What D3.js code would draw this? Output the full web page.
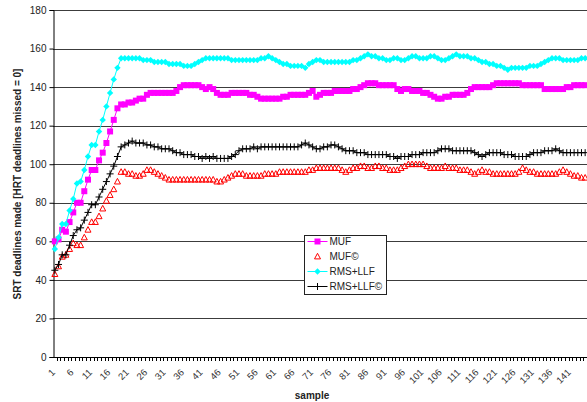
<!DOCTYPE html>
<html lang="en">
<head>
<meta charset="utf-8">
<title>SRT deadlines made</title>
<style>
  body { margin: 0; background: #fff; }
  svg { display: block; font-family: "Liberation Sans", Arial, sans-serif; }
</style>
</head>
<body>
<svg width="587" height="402"></svg>
<script src="https://d3js.org/d3.v7.min.js"></script>
<script>

// samples 1..145
var samples = d3.range(1, 146);

var yTicks = [0, 20, 40, 60, 80, 100, 120, 140, 160, 180];

var seriesNames = ["MUF", "MUF\u00a9", "RMS+LLF", "RMS+LLF\u00a9"];

var muf = [
   60,  61,  66,  65,  70,  75,  80,  80,  86,  92,
   97,  97, 102, 106, 111, 117, 123, 129, 131, 131,
  132, 132, 133, 134, 134, 136, 137, 137, 137, 137,
  137, 137, 137, 138, 140, 141, 141, 141, 141, 141,
  140, 139, 140, 139, 137, 136, 136, 136, 137, 137,
  137, 137, 137, 136, 136, 135, 134, 134, 134, 134,
  134, 134, 135, 135, 136, 136, 136, 136, 136, 137,
  138, 135, 136, 137, 137, 137, 138, 138, 138, 138,
  138, 139, 139, 140, 141, 142, 142, 142, 141, 141,
  141, 141, 141, 139, 138, 139, 139, 138, 138, 138,
  137, 137, 136, 135, 134, 134, 135, 135, 136, 136,
  136, 136, 137, 139, 140, 140, 140, 140, 140, 141,
  142, 142, 142, 142, 142, 142, 142, 141, 141, 141,
  141, 141, 141, 139, 139, 139, 139, 139, 139, 140,
  140, 141, 141, 141, 141
];

var mufC = [
   43,  47,  52,  53,  56,  59,  58,  58,  62,  66,
   70,  70,  73,  77,  81,  84,  87,  91,  96,  96,
   95,  95,  94,  94,  95,  97,  97,  96,  95,  94,
   93,  92,  92,  92,  92,  92,  92,  92,  92,  92,
   92,  92,  92,  92,  91,  91,  92,  93,  94,  95,
   95,  95,  94,  94,  94,  94,  94,  95,  95,  95,
   95,  96,  96,  96,  96,  96,  96,  96,  96,  97,
   97,  98,  98,  98,  98,  98,  98,  98,  97,  96,
   97,  98,  98,  99,  99,  98,  98,  99,  99,  98,
   98,  97,  97,  97,  98,  99, 100, 100, 100, 100,
  100,  99,  98,  98,  98,  98,  99,  98,  98,  98,
   97,  97,  97,  96,  95,  96,  97,  96,  96,  95,
   95,  95,  95,  95,  95,  95,  96,  98,  97,  96,
   96,  95,  95,  95,  95,  95,  95,  96,  97,  96,
   95,  94,  94,  93,  93
];

var rmsLlf = [
   56,  62,  69,  69,  76,  82,  90,  91,  97, 104,
  110, 110, 117, 123, 130, 137, 144, 150, 155, 155,
  155, 155, 155, 155, 154, 154, 154, 153, 153, 153,
  153, 152, 152, 152, 152, 151, 151, 151, 152, 153,
  154, 155, 155, 155, 155, 155, 155, 155, 154, 154,
  154, 154, 154, 154, 154, 154, 155, 155, 156, 155,
  154, 153, 152, 152, 151, 151, 151, 151, 150, 152,
  153, 154, 154, 153, 153, 153, 153, 153, 153, 153,
  153, 154, 154, 155, 156, 157, 156, 156, 155, 155,
  154, 154, 155, 155, 154, 154, 155, 156, 156, 155,
  155, 155, 156, 156, 155, 154, 154, 155, 156, 157,
  156, 156, 156, 155, 155, 154, 153, 153, 152, 152,
  151, 151, 150, 149, 150, 150, 150, 150, 150, 151,
  151, 151, 152, 153, 154, 155, 155, 155, 154, 154,
  154, 154, 154, 155, 155
];

var rmsLlfC = [
   45,  48,  53,  53,  58,  63,  66,  67,  71,  75,
   79,  79,  83,  87,  91,  95,  99, 104, 109, 110,
  111, 112, 111, 111, 111, 110, 110, 109, 109, 108,
  108, 108, 107, 106, 106, 105, 105, 105, 104, 104,
  103, 104, 103, 104, 103, 103, 103, 103, 104, 105,
  107, 108, 108, 108, 109, 108, 109, 109, 109, 109,
  109, 109, 109, 109, 109, 109, 109, 110, 111, 110,
  109, 108, 108, 109, 109, 110, 110, 109, 108, 107,
  107, 107, 106, 106, 106, 105, 105, 105, 105, 105,
  105, 104, 104, 103, 104, 104, 104, 105, 105, 105,
  106, 106, 106, 106, 107, 108, 108, 108, 107, 107,
  107, 107, 107, 107, 106, 105, 104, 105, 106, 106,
  106, 106, 105, 105, 105, 104, 104, 104, 104, 105,
  106, 106, 106, 107, 107, 107, 108, 107, 106, 106,
  106, 106, 106, 106, 106
];

var svg = d3.select("svg");

var margin = {left: 53, right: 0, top: 10, bottom: 45};
var plotW = 587 - margin.left - margin.right,
    plotH = 402 - margin.top - margin.bottom;

var x = d3.scaleBand()
    .domain(samples)
    .range([margin.left, margin.left + plotW]);

var y = d3.scaleLinear()
    .domain([0, 180])
    .range([margin.top + plotH, margin.top]);

// gridlines
svg.append("g")
  .selectAll("line")
  .data(yTicks.filter(function(d) { return d > 0; }))
  .enter().append("line")
    .attr("x1", margin.left)
    .attr("x2", margin.left + plotW)
    .attr("y1", function(d) { return Math.round(y(d)) + 0.5; })
    .attr("y2", function(d) { return Math.round(y(d)) + 0.5; })
    .attr("stroke", "#3c3c3c")
    .attr("stroke-width", 1);

// y axis
var yAxis = svg.append("g")
    .attr("transform", "translate(" + (margin.left + 0.5) + ",0)")
    .call(d3.axisLeft(y).tickValues(yTicks).tickSize(4).tickPadding(3));
yAxis.select(".domain").attr("stroke", "#000");
yAxis.selectAll(".tick line").attr("stroke", "#000");
yAxis.selectAll("text")
    .attr("font-size", 10)
    .attr("font-family", "Liberation Sans, Arial, sans-serif")
    .attr("fill", "#222");

// x axis: tick at each category boundary, label every 5th
var xg = svg.append("g");
xg.append("line")
    .attr("x1", margin.left)
    .attr("x2", margin.left + plotW)
    .attr("y1", Math.round(y(0)) + 0.5)
    .attr("y2", Math.round(y(0)) + 0.5)
    .attr("stroke", "#000");
xg.selectAll(".xt")
  .data(samples)
  .enter().append("line")
    .attr("class", "xt")
    .attr("x1", function(d) { return Math.round(x(d) + x.bandwidth()) + 0.5; })
    .attr("x2", function(d) { return Math.round(x(d) + x.bandwidth()) + 0.5; })
    .attr("y1", Math.round(y(0)))
    .attr("y2", Math.round(y(0)) + 4)
    .attr("stroke", "#000");
xg.selectAll(".xl")
  .data(samples.filter(function(d) { return (d - 1) % 5 === 0; }))
  .enter().append("text")
    .attr("class", "xl")
    .attr("transform", function(d) {
      return "translate(" + (x(d) + x.bandwidth() / 2 + 1) + "," + (y(0) + 16) + ") rotate(-45)";
    })
    .attr("text-anchor", "end")
    .attr("font-size", 9.5)
    .attr("fill", "#333")
    .text(function(d) { return d; });

// axis titles
svg.append("text")
    .attr("transform", "translate(21,184) rotate(-90)")
    .attr("text-anchor", "middle")
    .attr("font-size", 10)
    .attr("font-weight", "bold")
    .attr("fill", "#222")
    .text("SRT deadlines made [HRT deadlines missed = 0]");

svg.append("text")
    .attr("x", 312)
    .attr("y", 399)
    .attr("text-anchor", "middle")
    .attr("font-size", 10)
    .attr("font-weight", "bold")
    .attr("fill", "#222")
    .text("sample");

// series
var cx = function(i) { return x(samples[i]) + x.bandwidth() / 2; };

var line = d3.line()
    .x(function(d, i) { return cx(i); })
    .y(function(d) { return y(d); });

var squarePath = "M-3,-3H3V3H-3Z";
var triPath = "M0,-3.2L3,2.4H-3Z";
var diamondPath = "M0,-3.2L3.2,0L0,3.2L-3.2,0Z";
var plusPath = "M-3.5,0H3.5M0,-3.5V3.5";

var series = [
  {name: seriesNames[0], values: muf, color: "#ff00ff", line: true, marker: squarePath, fill: "#ff00ff", stroke: "none"},
  {name: seriesNames[1], values: mufC, color: "#ff0000", line: false, marker: triPath, fill: "none", stroke: "#ff0000"},
  {name: seriesNames[2], values: rmsLlf, color: "#00ffff", line: true, marker: diamondPath, fill: "#00ffff", stroke: "none"},
  {name: seriesNames[3], values: rmsLlfC, color: "#000000", line: true, marker: plusPath, fill: "none", stroke: "#000000"}
];

series.forEach(function(s) {
  var g = svg.append("g");
  if (s.line) {
    g.append("path")
      .datum(s.values)
      .attr("d", line)
      .attr("fill", "none")
      .attr("stroke", s.color)
      .attr("stroke-width", 1);
  }
  g.selectAll("path.m")
    .data(s.values)
    .enter().append("path")
      .attr("class", "m")
      .attr("transform", function(d, i) { return "translate(" + cx(i) + "," + y(d) + ")"; })
      .attr("d", s.marker)
      .attr("fill", s.fill)
      .attr("stroke", s.stroke)
      .attr("stroke-width", 1);
});

// legend
var lg = svg.append("g").attr("transform", "translate(304.5,235.5)");
lg.append("rect")
    .attr("width", 82)
    .attr("height", 59)
    .attr("fill", "#fff")
    .attr("stroke", "#222");

series.forEach(function(s, i) {
  var ly = 6 + i * 15;
  if (s.line) {
    lg.append("line")
      .attr("x1", 3).attr("x2", 23)
      .attr("y1", ly).attr("y2", ly)
      .attr("stroke", s.color);
  }
  lg.append("path")
    .attr("transform", "translate(13," + ly + ")")
    .attr("d", s.marker)
    .attr("fill", s.fill)
    .attr("stroke", s.stroke);
  lg.append("text")
    .attr("x", 25)
    .attr("y", ly + 3.5)
    .attr("font-size", 10)
    .attr("fill", "#222")
    .text(s.name);
});

</script>
</body>
</html>
